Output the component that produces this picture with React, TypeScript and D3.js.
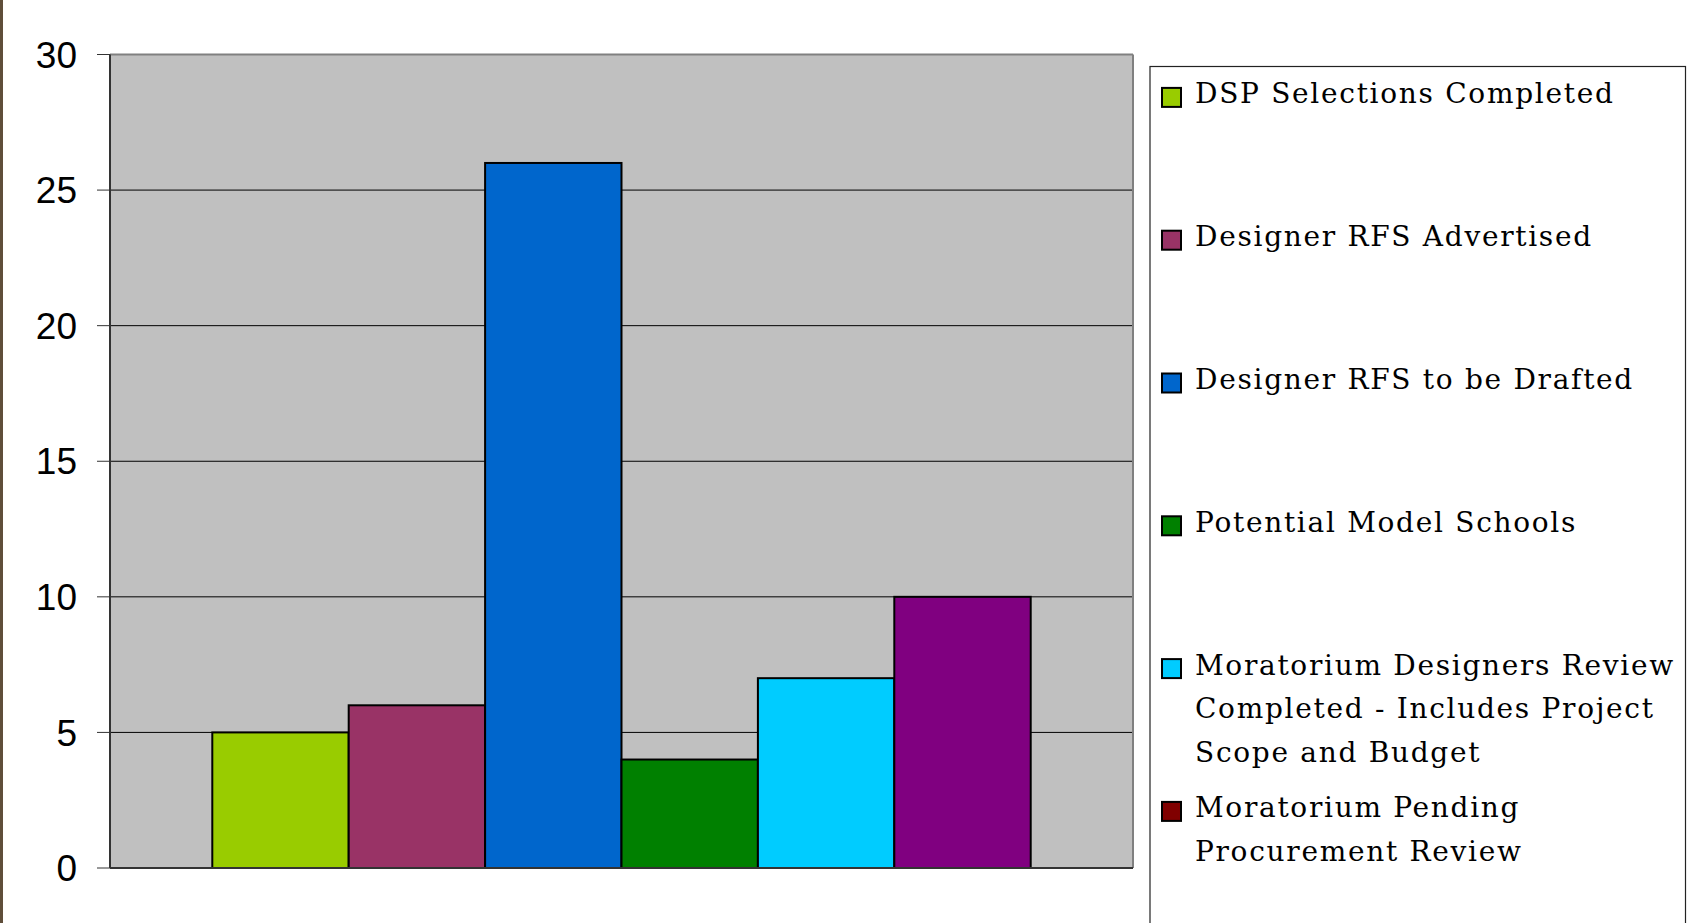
import React from "react";
import * as d3 from "d3";

const yTicks = [0, 5, 10, 15, 20, 25, 30];
const barKeys = ["DSP", "RFSAdv", "RFSDraft", "Model", "MorRev", "Other"];
const barValues = [5, 6, 26, 4, 7, 10];
const barColors = ["#99CC00", "#993366", "#0066CC", "#008000", "#00CCFF", "#800080"];
const legendLines = [
  ["DSP Selections Completed"],
  ["Designer RFS Advertised"],
  ["Designer RFS to be Drafted"],
  ["Potential Model Schools"],
  ["Moratorium Designers Review", "Completed - Includes Project", "Scope and Budget"],
  ["Moratorium Pending", "Procurement Review"],
];
const legendColors = ["#99CC00", "#993366", "#0066CC", "#008000", "#00CCFF", "#800000"];

export default function App() {
  const W = 1704;
  const H = 923;
  const plot = { left: 110, right: 1133, top: 54.5, bottom: 868 };
  const y = d3.scaleLinear().domain([0, 30]).range([plot.bottom, plot.top]);
  const x0 = d3.scaleBand().domain(["cat"]).range([plot.left, plot.right]).paddingInner(0).paddingOuter(0.125);
  const x1 = d3.scaleBand().domain(barKeys).range([0, x0.bandwidth()]).padding(0);
  const gx = x0("cat") as number;

  const legend = { left: 1150, top: 66.5, right: 1685.5, firstBaseline: 103.4, step: 142.8, lineH: 43.8 };

  return (
    <svg
      width={W}
      height={H}
      style={{ position: "absolute", left: 0, top: 0, display: "block", background: "#fff" }}
    >
      <rect x={0} y={0} width={W} height={H} fill="#ffffff" />
      <rect x={0} y={0} width={3} height={H} fill="#5f4e3a" />
      <rect x={plot.left} y={plot.top} width={plot.right - plot.left} height={plot.bottom - plot.top} fill="#C0C0C0" />
      {yTicks.filter((t) => t > 0 && t < 30).map((t) => (
        <line key={"g" + t} x1={plot.left} x2={plot.right} y1={y(t)} y2={y(t)} stroke="#000" strokeWidth={1} />
      ))}
      <line x1={plot.left} x2={plot.right} y1={plot.top} y2={plot.top} stroke="#808080" strokeWidth={2} />
      <line x1={plot.right} x2={plot.right} y1={plot.top} y2={plot.bottom} stroke="#808080" strokeWidth={2} />
      {barKeys.map((k, i) => (
        <rect
          key={k}
          x={gx + (x1(k) as number)}
          y={y(barValues[i])}
          width={x1.bandwidth()}
          height={y(0) - y(barValues[i])}
          fill={barColors[i]}
          stroke="#000"
          strokeWidth={2}
        />
      ))}
      <line x1={plot.left} x2={plot.left} y1={plot.top} y2={plot.bottom} stroke="#333" strokeWidth={2} />
      <line x1={plot.left} x2={plot.right} y1={plot.bottom} y2={plot.bottom} stroke="#333" strokeWidth={2} />
      {yTicks.map((t) => (
        <g key={"t" + t}>
          <line x1={97} x2={plot.left} y1={y(t)} y2={y(t)} stroke="#333" strokeWidth={1} />
          <text
            x={77}
            y={y(t)}
            dy="0.355em"
            textAnchor="end"
            fontFamily="'Liberation Sans', Arial, sans-serif"
            fontSize={37}
            fill="#000"
          >
            {t}
          </text>
        </g>
      ))}
      <rect
        x={legend.left}
        y={legend.top}
        width={legend.right - legend.left}
        height={H + 20 - legend.top}
        fill="#fff"
        stroke="#222"
        strokeWidth={1.2}
      />
      {legendLines.map((lines, i) => {
        const base = legend.firstBaseline + i * legend.step;
        return (
          <g key={"l" + i}>
            <rect x={1162} y={base - 15.5} width={19} height={19} fill={legendColors[i]} stroke="#000" strokeWidth={2} />
            {lines.map((ln, j) => (
              <text
                key={j}
                x={1195}
                y={base + j * legend.lineH}
                fontFamily="'DejaVu Serif', serif"
                fontSize={28}
                letterSpacing={1.7}
                fill="#000"
              >
                {ln}
              </text>
            ))}
          </g>
        );
      })}
    </svg>
  );
}
